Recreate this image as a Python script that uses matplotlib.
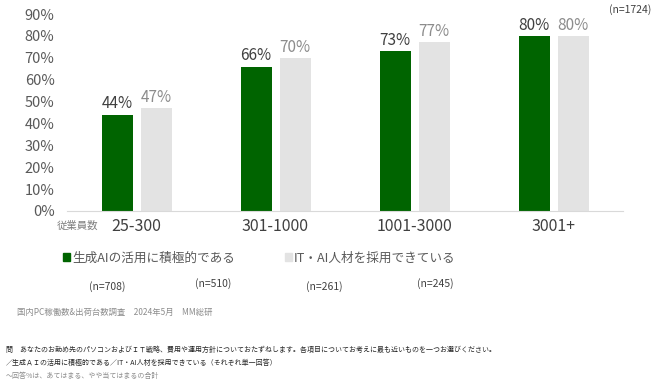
import matplotlib
matplotlib.use("Agg")
import matplotlib.pyplot as plt
import numpy as np
from matplotlib.patches import Patch

plt.rcParams['font.family'] = ['Noto Sans CJK JP', 'DejaVu Sans']

categories = ['25-300', '301-1000', '1001-3000', '3001+']
genai = [44, 66, 73, 80]
itai = [47, 70, 77, 80]
series_names = ['生成AIの活用に積極的である', 'IT・AI人材を採用できている']
n_labels = ['(n=708)', '(n=510)', '(n=261)', '(n=245)']
total_n = '(n=1724)'
yticks = [0, 10, 20, 30, 40, 50, 60, 70, 80, 90]

GREEN = '#006400'
GRAY = '#e3e3e3'

fig = plt.figure(figsize=(6.65, 3.88), dpi=100)
ax = fig.add_axes([67/665, 1-211/388, 556/665, (211-14)/388])

x = np.arange(len(categories))
w = 31/139
off = 19.5/139
ax.bar(x - off, genai, w, color=GREEN)
ax.bar(x + off, itai, w, color=GRAY)

for xi, v in zip(x, genai):
    ax.text(xi - off, v + 1.0, f'{v}%', ha='center', va='bottom', fontsize=11, color='#404040')
for xi, v in zip(x, itai):
    ax.text(xi + off, v + 1.0, f'{v}%', ha='center', va='bottom', fontsize=11, color='#8c8c8c')

ax.set_xlim(-0.5, 3.5)
ax.set_ylim(0, 90)
ax.set_yticks(yticks)
ax.set_yticklabels([f'{t}%' for t in yticks], fontsize=10.5, color='#595959')
ax.set_xticks(x)
ax.set_xticklabels(categories, fontsize=11.5, color='#404040')
ax.tick_params(axis='both', length=0)
ax.tick_params(axis='y', pad=9)
ax.tick_params(axis='x', pad=5)
for s in ['top', 'right', 'left']:
    ax.spines[s].set_visible(False)
ax.spines['bottom'].set_color('#d9d9d9')
ax.set_facecolor('none')

fig.text(57/665, 1-226/388, '従業員数', fontsize=7.5, color='#7f7f7f', va='center', ha='left')

h1 = Patch(color=GREEN)
h2 = Patch(color=GRAY)
fig.legend([h1, h2], series_names, loc='center left', bbox_to_anchor=(58/665, 1-258/388),
           borderaxespad=0, ncol=2, frameon=False, fontsize=9.1, handlelength=0.55, handleheight=0.55,
           handletextpad=0.15, columnspacing=4.0, labelcolor='#595959')

nx = [107, 213, 324, 435]
ny = [287, 284, 287, 284]
for xx, yy, t in zip(nx, ny, n_labels):
    fig.text(xx/665, 1-yy/388, t, fontsize=7.5, color='#404040', ha='center', va='center')
fig.text(630/665, 1-10/388, total_n, fontsize=7.5, color='#404040', ha='center', va='center')

fig.text(17/665, 1-312/388, '国内PC稼働数&出荷台数調査　2024年5月　MM総研', fontsize=6, color='#8c8c8c', va='center')

fig.text(6/665, 1-350/388, '問　あなたのお勤め先のパソコンおよびＩＴ戦略、費用や運用方針についておたずねします。各項目についてお考えに最も近いものを一つお選びください。',
         fontsize=5.0, color='#262626', va='center')
fig.text(6/665, 1-363/388, '／生成ＡＩの活用に積極的である／IT・AI人材を採用できている（それぞれ単一回答）',
         fontsize=5.0, color='#262626', va='center')
fig.text(6/665, 1-376/388, '～回答%は、あてはまる、やや当てはまるの合計',
         fontsize=5.0, color='#8c8c8c', va='center')

fig.savefig('out.png', dpi=100)
